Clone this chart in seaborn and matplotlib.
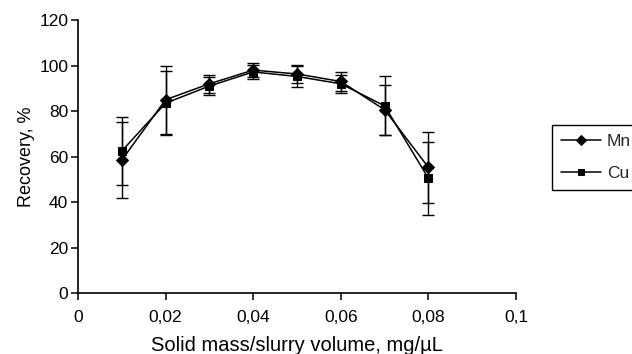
import matplotlib
matplotlib.use("Agg")
import matplotlib.pyplot as plt
import seaborn as sns
import pandas as pd

# Solid mass / slurry volume ratio (mg/uL)
ratio = [0.01, 0.02, 0.03, 0.04, 0.05, 0.06, 0.07, 0.08]

# Recovery (%) and standard deviations
mn_recovery = [58.5, 85.0, 92.0, 98.0, 96.3, 93.0, 80.6, 55.3]
mn_sd = [16.8, 15.0, 4.0, 3.2, 4.0, 4.0, 11.0, 15.5]
cu_recovery = [62.5, 83.5, 91.0, 97.2, 95.2, 92.0, 82.3, 50.5]
cu_sd = [15.0, 14.2, 4.0, 3.0, 4.5, 4.0, 13.0, 16.0]

x_ticks = [0, 0.02, 0.04, 0.06, 0.08, 0.1]
x_tick_labels = ["0", "0,02", "0,04", "0,06", "0,08", "0,1"]
y_ticks = [0, 20, 40, 60, 80, 100, 120]

sns.set_theme(style="ticks")
plt.rcParams["font.family"] = ["Liberation Sans", "DejaVu Sans"]

mn_df = pd.DataFrame({"ratio": ratio, "recovery": mn_recovery, "metal": "Mn"})
cu_df = pd.DataFrame({"ratio": ratio, "recovery": cu_recovery, "metal": "Cu"})

fig = plt.figure(figsize=(6.32, 3.54), dpi=100)
ax = fig.add_axes([78 / 632, (354 - 293.3) / 354, 438 / 632, 273.3 / 354])

# error bars first so the markers sit on top
for vals, sd in [(mn_recovery, mn_sd), (cu_recovery, cu_sd)]:
    ax.errorbar(ratio, vals, yerr=sd, fmt="none", ecolor="black",
                elinewidth=1.0, capsize=4.3, capthick=1.0, zorder=2)

sns.lineplot(data=mn_df, x="ratio", y="recovery", label="Mn", color="black",
             marker="D", markersize=6.5, markeredgecolor="black",
             linewidth=1.1, ax=ax, zorder=3)
sns.lineplot(data=cu_df, x="ratio", y="recovery", label="Cu", color="black",
             marker="s", markersize=5.5, markeredgecolor="black",
             linewidth=1.1, ax=ax, zorder=3)

ax.set_xlim(0, 0.1)
ax.set_ylim(0, 120)
ax.set_xticks(x_ticks)
ax.set_xticklabels(x_tick_labels)
ax.set_yticks(y_ticks)
ax.tick_params(axis="both", labelsize=12.5, colors="black", length=5,
               width=1.1, direction="out")
ax.tick_params(axis="x", pad=7)
ax.tick_params(axis="y", pad=2)

for side in ["top", "right"]:
    ax.spines[side].set_visible(False)
for side in ["left", "bottom"]:
    ax.spines[side].set_color("black")
    ax.spines[side].set_linewidth(1.2)

ax.set_xlabel("Solid mass/slurry volume, mg/\u00b5L", fontsize=14.5,
              color="black", labelpad=8)
ax.set_ylabel("Recovery, %", fontsize=13, color="black", labelpad=3)

handles, labels = ax.get_legend_handles_labels()
ax.legend(handles, labels, loc="upper left",
          bbox_to_anchor=(552 / 632, (354 - 125) / 354),
          bbox_transform=fig.transFigure, fontsize=12.5, frameon=True,
          fancybox=False, edgecolor="black", framealpha=1,
          borderpad=0.5, labelspacing=1.0, handlelength=2.3,
          handletextpad=0.35, borderaxespad=0, markerscale=0.85)
ax.get_legend().get_frame().set_linewidth(1.0)

fig.savefig("out.png", dpi=100)
